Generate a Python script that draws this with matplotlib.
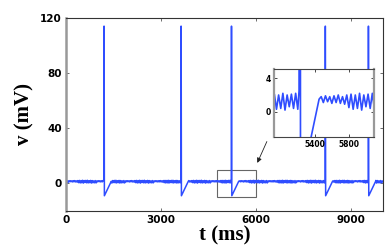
import numpy as np
import matplotlib.pyplot as plt
from matplotlib.patches import Rectangle

# values
spike_times = [1200, 3630, 5220, 8180, 9540]   # ms
spike_peak = 114      # mV
spike_trough = -9     # mV
recovery_ms = 230     # time from spike back to baseline
ripple = [0.4, 2.0, 0.3,
          1.8, 1.1, 1.9, 1.2, 1.8, 1.0, 1.9, 1.1, 2.0, 1.0, 1.8, 0.9,
          2.0, 0.5, 2.1, 0.3, 2.0, 0.4, 2.2, 0.2, 2.0, 0.6, 2.1, 0.4,
          2.2, 0.3, 1.9, 0.5, 2.1, 0.2, 2.0, 0.4, 1.8]
ripple_step = 25      # ms between ripple vertices
t_end = 10000

xticks = [0, 3000, 6000, 9000]
yticks = [0, 40, 80, 120]
inset_xticks = [5400, 5800]
inset_yticks = [0, 4]

blue = '#2f4dff'

# build the trace from the read values
t_all = []
v_all = []
start = 0
for ts in spike_times + [t_end + ripple_step]:
    for t in range(start, min(ts - 5, t_end + 1), ripple_step):
        t_all.append(t)
        v_all.append(ripple[(t // ripple_step) % len(ripple)])
    if ts > t_end:
        break
    t_all += [ts - 5, ts, ts + 4, ts + 12, ts + recovery_ms]
    v_all += [2.5, spike_peak, spike_peak, spike_trough, 1.5]
    start = (ts + recovery_ms) // ripple_step * ripple_step + ripple_step

t_all = np.array(t_all)
v_all = np.array(v_all)

fig = plt.figure(figsize=(3.88, 2.49), dpi=100)
ax = fig.add_axes([0.170, 0.153, 0.817, 0.775])
ax.plot(t_all, v_all, color=blue, lw=1.1)
ax.set_xlim(0, t_end)
ax.set_ylim(-20, 120)
ax.set_xticks(xticks)
ax.set_yticks(yticks)
ax.tick_params(direction='in', length=2.5, width=0.6, top=True, right=True,
               labelsize=7.5, pad=3, colors='#555', labelcolor='black')
for lab in ax.get_xticklabels() + ax.get_yticklabels():
    lab.set_fontweight('bold')
for s in ['top', 'right', 'bottom']:
    ax.spines[s].set_color('#333')
    ax.spines[s].set_linewidth(0.8)
ax.spines['left'].set_color('#999')
ax.spines['left'].set_linewidth(1.8)

ax.set_xlabel('t (ms)', family='Liberation Serif', fontweight='bold',
              fontsize=15, labelpad=0)
ax.set_ylabel('v (mV)', family='Liberation Serif', fontweight='bold',
              fontsize=15, labelpad=4)

# zoom box on the main axes
ax.add_patch(Rectangle((4750, -10), 1250, 20, fill=False, ec='#666', lw=0.8))

# inset
axin = fig.add_axes([0.706, 0.450, 0.258, 0.273])
axin.plot(t_all, v_all, color=blue, lw=1.2)
axin.set_xlim(4920, 6095)
axin.set_ylim(-3, 5.1)
axin.set_xticks(inset_xticks)
axin.set_yticks(inset_yticks)
axin.tick_params(direction='in', length=2, width=0.5, top=True, right=True,
                 labelsize=5.5, pad=2)
for lab in axin.get_xticklabels() + axin.get_yticklabels():
    lab.set_fontweight('bold')
for s in ['top', 'bottom']:
    axin.spines[s].set_color('#444')
    axin.spines[s].set_linewidth(0.8)
for s in ['left', 'right']:
    axin.spines[s].set_color('#999')
    axin.spines[s].set_linewidth(1.6)

ax.annotate('', xy=(6000, 13), xycoords='data',
            xytext=(268 / 388, 1 - 139 / 249), textcoords='figure fraction',
            arrowprops=dict(arrowstyle='-|>', color='#222', lw=0.6,
                            mutation_scale=7))

fig.savefig('out.png', dpi=100)
